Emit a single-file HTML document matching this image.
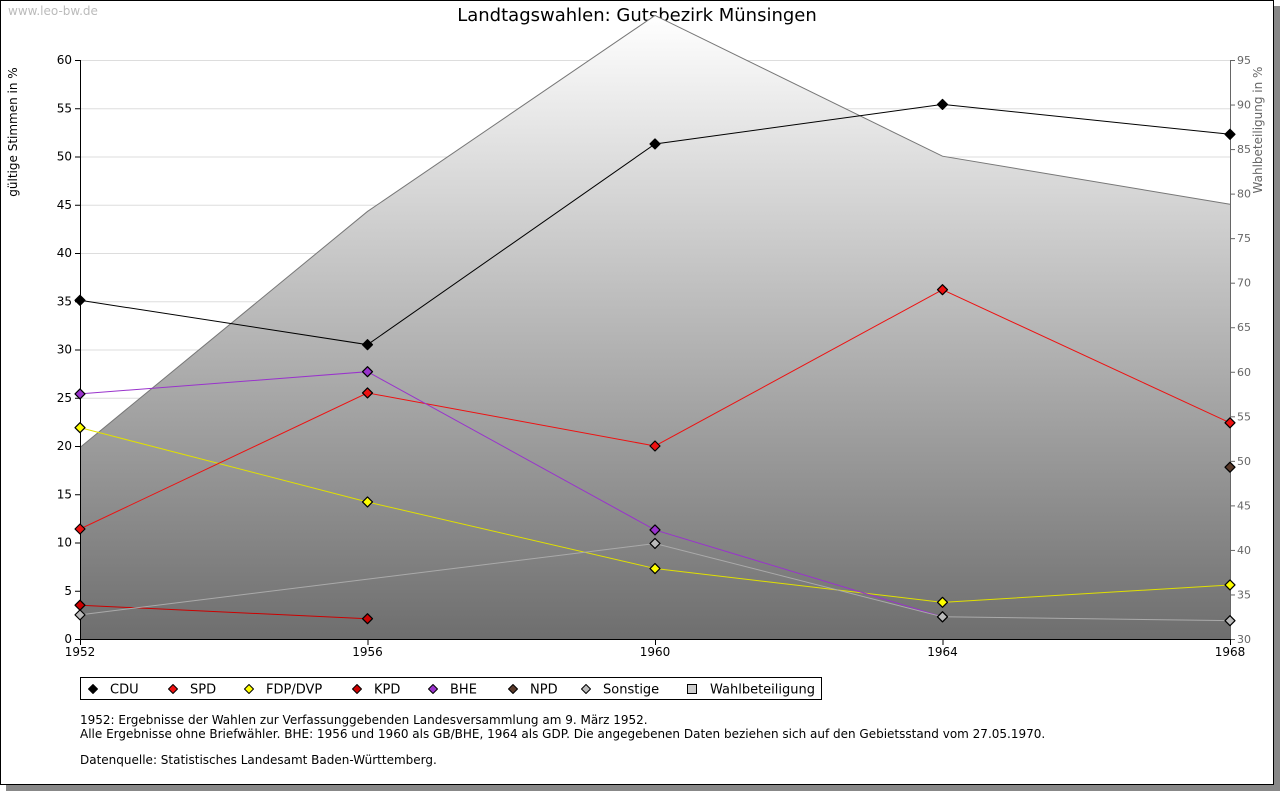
<!DOCTYPE html>
<html><head><meta charset="utf-8"><style>
body{margin:0;background:#fff;font-family:"Liberation Sans","DejaVu Sans",sans-serif}
svg text{font-family:"DejaVu Sans","Liberation Sans",sans-serif}
</style></head><body>
<svg id="c" width="1280" height="791" xmlns="http://www.w3.org/2000/svg">
<defs><linearGradient id="g" x1="0" y1="0" x2="0" y2="1"><stop offset="0" stop-color="#ffffff"/><stop offset="1" stop-color="#6e6e6e"/></linearGradient></defs>
<rect x="6" y="6" width="1274" height="785" fill="#888"/>
<rect x="0.5" y="0.5" width="1273" height="784" fill="#fff" stroke="#000"/>
<text x="8" y="15" font-size="12" fill="#bbb">www.leo-bw.de</text>
<text x="637" y="21" font-size="18" text-anchor="middle">Landtagswahlen: Gutsbezirk Münsingen</text>
<text transform="translate(17,132) rotate(-90)" font-size="12" text-anchor="middle">gültige Stimmen in %</text>
<text transform="translate(1262,130) rotate(-90)" font-size="12" fill="#666" text-anchor="middle">Wahlbeteiligung in %</text>
<g id="grid"></g><g id="area"></g><g id="axes"></g><g id="series"></g>
<g>
<rect x="80.5" y="677.5" width="741" height="22" fill="#fff" stroke="#000"/>
<g id="leg"></g></g>
<text x="80" y="724" font-size="12">1952: Ergebnisse der Wahlen zur Verfassunggebenden Landesversammlung am 9. März 1952.</text>
<text x="80" y="738" font-size="12">Alle Ergebnisse ohne Briefwähler. BHE: 1956 und 1960 als GB/BHE, 1964 als GDP. Die angegebenen Daten beziehen sich auf den Gebietsstand vom 27.05.1970.</text>
<text x="80" y="764" font-size="12">Datenquelle: Statistisches Landesamt Baden-Württemberg.</text>
</svg>
<script>
const years=[1952,1956,1960,1964,1968];
const turnout=[51.5,78.0,100.0,84.2,78.8];
const cdu=[35.1,30.5,51.3,55.4,52.3];
const spd=[11.4,25.5,20.0,36.2,22.4];
const fdp=[21.9,14.2,7.3,3.8,5.6];
const kpd=[3.5,2.1,null,null,null];
const bhe=[25.4,27.7,11.3,2.3,null];
const npd=[null,null,null,null,17.8];
const sonst=[2.5,null,9.9,2.3,1.9];
const leftTicks=[0,5,10,15,20,25,30,35,40,45,50,55,60];
const rightTicks=[30,35,40,45,50,55,60,65,70,75,80,85,90,95];
const NS='http://www.w3.org/2000/svg';
const X0=80,X1=1230,YT=60,YB=639;
const x=v=>X0+(v-1952)/(1968-1952)*(X1-X0);
const y=v=>YB-v/60*(YB-YT);
const y2=v=>YB-(v-30)/65*(YB-YT);
function el(t,a,p){const e=document.createElementNS(NS,t);for(const k in a)e.setAttribute(k,a[k]);document.getElementById(p).appendChild(e);return e;}
leftTicks.forEach(t=>{
 if(t>0){const g=el('line',{x1:X0,x2:X1,y1:y(t)+.5,y2:y(t)+.5,stroke:'#ddd'},'grid');
 
 }
 el('line',{x1:X0-5,x2:X0,y1:y(t)+.5,y2:y(t)+.5,stroke:'#000'},'axes');
 const l=el('text',{x:X0-8,y:y(t)+4,'font-size':12,'text-anchor':'end'},'axes');l.textContent=t;
 
 
});
rightTicks.forEach(t=>{
 el('line',{x1:X1,x2:X1+5,y1:y2(t)+.5,y2:y2(t)+.5,stroke:'#666'},'axes');
 const l=el('text',{x:X1+7,y:y2(t)+4,'font-size':11,fill:'#666'},'axes');l.textContent=t;
 
 
});
let ap='M'+x(years[0])+','+YB;years.forEach((yr,i)=>ap+=' L'+x(yr)+','+y2(turnout[i]));ap+=' L'+x(1968)+','+YB+' Z';
const a=el('path',{d:ap,fill:'url(#g)'},'area');


let lp='';years.forEach((yr,i)=>lp+=(i?' L':'M')+x(yr)+','+y2(turnout[i]));
el('path',{d:lp,fill:'none',stroke:'#777'},'area');
el('line',{x1:X0+.5,x2:X0+.5,y1:YT,y2:YB,stroke:'#000'},'axes');
el('line',{x1:X1+.5,x2:X1+.5,y1:YT,y2:YB,stroke:'#666'},'axes');
el('line',{x1:X0,x2:X1,y1:YB+.5,y2:YB+.5,stroke:'#000'},'axes');
years.forEach(yr=>{el('line',{x1:x(yr)+.5,x2:x(yr)+.5,y1:YB,y2:YB+6,stroke:'#000'},'axes');
 const l=el('text',{x:x(yr),y:YB+17,'font-size':12,'text-anchor':'middle'},'axes');l.textContent=yr;
 
 });
const series=[['npd',npd,'#5a3a2a','#555'],['kpd',kpd,'#cc0000','#cc0000'],['fdp',fdp,'#ffff00','#e0e000'],['spd',spd,'#ee1111','#ee1111'],['bhe',bhe,'#9933cc','#9933cc'],['sonstige',sonst,'#bbbbbb','#aaaaaa'],['cdu',cdu,'#000','#000']];
series.forEach(([n,d,f,s])=>{
 let p='';let started=false;
 years.forEach((yr,i)=>{if(d[i]==null)return;p+=(started?' L':'M')+x(yr)+','+y(d[i]);started=true;});
 const g=el('g',{},'series');g.id='s'+n;
 el('path',{d:p,fill:'none',stroke:s,'stroke-width':1},'s'+n);
 years.forEach((yr,i)=>{if(d[i]==null)return;const cx=x(yr),cy=y(d[i]);
  const m=el('path',{d:`M${cx},${cy-5} L${cx+5},${cy} L${cx},${cy+5} L${cx-5},${cy} Z`,fill:f,stroke:'#000','stroke-linejoin':'round','stroke-width':1.2},'s'+n);
  
  });
});
const leg=[['CDU','#000',110],['SPD','#ee1111',190],['FDP/DVP','#ffff00',266],['KPD','#cc0000',374],['BHE','#9933cc',450],['NPD','#5a3a2a',530],['Sonstige','#bbbbbb',603]];
leg.forEach(([t,c,lx])=>{const cx=lx-17,cy=689;
 el('path',{d:`M${cx},${cy-4.5} L${cx+4.5},${cy} L${cx},${cy+4.5} L${cx-4.5},${cy} Z`,fill:c,stroke:'#000','stroke-linejoin':'round'},'leg');
 const l=el('text',{x:lx,y:cy+4.5,'font-size':13},'leg');l.textContent=t;
 
 });
el('rect',{x:687.5,y:684.5,width:9,height:9,fill:'#ccc',stroke:'#000'},'leg');
const wl=el('text',{x:710,y:693.5,'font-size':13},'leg');wl.textContent='Wahlbeteiligung';


</script>
</body></html>
